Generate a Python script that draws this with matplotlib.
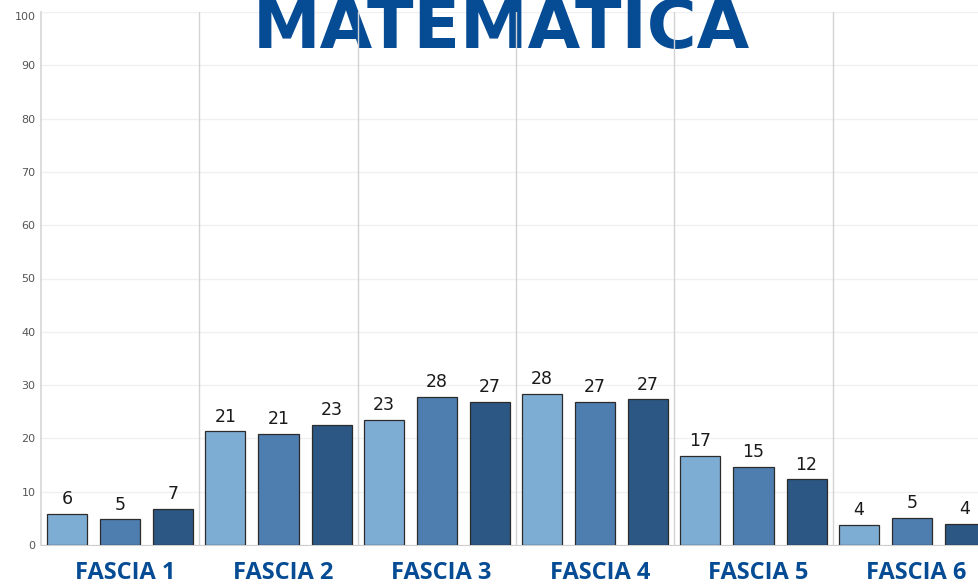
import numpy as np
import matplotlib
matplotlib.use('Agg')
import matplotlib.pyplot as plt

# data
groups = ['FASCIA 1', 'FASCIA 2', 'FASCIA 3', 'FASCIA 4', 'FASCIA 5', 'FASCIA 6']
series_a = [5.9, 21.3, 23.4, 28.4, 16.7, 3.8]
series_b = [4.8, 20.9, 27.7, 26.9, 14.6, 5.1]
series_c = [6.7, 22.6, 26.9, 27.3, 12.3, 4.0]
yticks = [0, 10, 20, 30, 40, 50, 60, 70, 80, 90, 100]

colors = ['#7eadd4', '#4e7eaf', '#2c5784']
title_color = '#064c94'

fig = plt.figure(figsize=(9.79, 5.84), dpi=100)
ax = fig.add_axes([41 / 979, 1 - 545 / 584, 950 / 979, 533 / 584])

x = np.arange(len(groups))
step = 53 / 158.3
width = 40 / 158.3
for k, vals in enumerate([series_a, series_b, series_c]):
    pos = x + (k - 1) * step
    bars = ax.bar(pos, vals, width=width, color=colors[k],
                  edgecolor='#2b2b2b', linewidth=0.9, zorder=3)
    for b, v in zip(bars, vals):
        ax.text(b.get_x() + b.get_width() / 2, v + 1.1, '{:.0f}'.format(v),
                ha='center', va='bottom', fontsize=12.5, color='#1a1a1a',
                zorder=4)

ax.set_xlim(-0.5, len(groups) - 0.5)
ax.set_ylim(0, 100)
ax.set_yticks(yticks)
ax.set_yticklabels([str(t) for t in yticks])
ax.tick_params(axis='y', length=0, labelsize=8, labelcolor='#555555', pad=4)
ax.set_xticks([])
# top label sits a little lower in the original, as if pushed inside
ax.get_yticklabels()[-1].set_va('top')

ax.grid(axis='y', color='#f0f0f0', linewidth=1, zorder=0)
ax.set_axisbelow(True)
for s in ['top', 'right']:
    ax.spines[s].set_visible(False)
ax.spines['left'].set_color('#d6d6d6')
ax.spines['bottom'].set_color('#cfcfcf')
ax.spines['left'].set_linewidth(1.2)

# group separators
for b in x[1:] - 0.5:
    ax.axvline(b, color='#d3d3d3', linewidth=1, zorder=2)

for i, g in enumerate(groups):
    ax.text(i + 0.03, -5.2, g, ha='center', va='center', fontsize=17,
            fontweight='bold', family='Open Sans', color=title_color,
            clip_on=False)

ax.text(0.512, 1 - 48 / 584, 'MATEMATICA', transform=fig.transFigure,
        ha='center', va='baseline', fontsize=49, fontweight='bold',
        family='DejaVu Sans', color=title_color, zorder=1)

fig.savefig('out.png', dpi=100)
